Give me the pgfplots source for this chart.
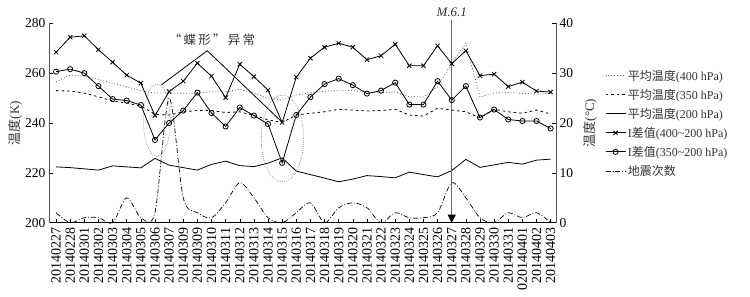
\documentclass[border=0pt]{standalone}
\usepackage{fontspec}
\setmainfont{Liberation Serif}
\newfontfamily\cjk{Noto Sans CJK SC}
\newfontfamily\cjkls{Noto Sans CJK SC}[LetterSpace=18]
\usepackage{pgfplots}
\usepackage{pgfplotstable}
\pgfplotsset{compat=1.18}
\usetikzlibrary{arrows.meta}

\pgfplotstableread{
i t400 t350 t200 d400 d350 eq
0 256.5 253.0 222.4 34.2 30.3 2
1 259.2 252.8 222.1 37.2 30.8 0
2 258.8 252.0 221.6 37.5 30.0 1
3 257.5 250.5 221.1 34.7 27.4 1
4 256.0 248.8 222.8 32.2 24.8 0
5 254.5 248.0 222.4 29.6 24.5 5
6 253.0 246.8 222.0 28.0 23.6 1
7 252.0 243.5 225.8 21.5 16.6 2
8 252.0 243.2 223.1 26.3 20.0 25
9 251.9 244.5 222.1 28.4 22.5 5
10 252.0 245.0 221.1 32.0 26.1 2
11 252.5 245.0 223.4 29.4 22.0 1
12 252.5 244.2 224.7 25.1 19.3 4
13 253.5 244.5 222.9 31.8 23.1 8
14 252.0 243.0 222.5 29.3 21.5 5
15 250.0 241.3 223.9 26.6 19.8 1
16 249.2 240.2 226.0 20.1 12.0 0
17 251.2 243.2 220.7 29.2 21.6 2
18 252.2 243.9 219.3 33.0 25.2 4
19 252.7 244.5 217.9 35.2 27.8 0
20 253.2 245.5 216.4 36.0 28.9 3
21 253.0 245.2 217.5 35.2 27.6 4
22 252.5 244.8 218.9 32.7 25.9 3
23 252.0 245.0 218.5 33.5 26.5 0
24 252.5 245.5 218.0 35.8 28.1 2
25 250.5 243.2 220.3 31.5 23.7 1
26 250.5 242.8 219.3 31.5 23.7 1
27 254.5 245.9 218.4 35.5 28.4 2
28 264.0 245.2 220.9 31.9 24.6 8
29 272.0 244.5 225.4 34.5 27.4 5
30 250.5 242.1 222.2 29.5 21.1 1
31 252.0 245.5 223.2 29.8 22.7 0
32 252.2 244.5 224.2 27.3 20.7 2
33 251.9 243.9 223.5 28.2 20.4 1
34 251.6 245.2 225.1 26.4 20.4 2
35 251.9 243.6 225.5 26.2 18.9 0
}\datatable

\definecolor{axgray}{HTML}{555555}
\definecolor{txtgray}{HTML}{333333}

\pgfplotsset{
  base/.style={
    scale only axis, width=507pt, height=199.4pt,
    at={(0pt,0pt)}, anchor=south west,
    xmin=-0.5, xmax=35.38, clip=false,
    major tick length=4pt,
    tick style={black, line width=0.5pt},
    tick label style={font=\fontsize{13.5}{13.5}\selectfont},
    /pgf/number format/assume math mode=true,
  },
  s400/.style={line width=0.8pt, black!60, dash pattern=on 0.9pt off 2pt},
  s350/.style={line width=0.8pt, black, dash pattern=on 2.5pt off 3pt},
  s200/.style={line width=0.8pt, black},
  sd400/.style={line width=0.8pt, black, mark=x, mark size=3pt, mark options={solid}},
  sd350/.style={line width=0.8pt, black, mark=o, mark size=2.6pt, mark options={solid}},
  seq/.style={line width=0.7pt, black, dash pattern=on 5pt off 2pt on 0.8pt off 2pt, smooth, tension=0.5},
}

\begin{document}
\begin{tikzpicture}
\begin{axis}[base,
  ymin=200, ymax=280, ytick={200,220,...,280},
  axis x line*=bottom, axis y line*=left,
  x axis line style={black, line width=0.7pt},
  y axis line style={axgray, line width=0.7pt},
  xtick={0,...,35},
  xticklabels={20140227,20140228,20140301,20140302,20140303,20140304,20140305,20140306,20140307,20140309,20140309,20140310,20140311,20140312,20140313,20140314,20140315,20140316,20140317,20140318,20140319,20140320,20140321,20140322,20140323,20140324,20140325,20140326,20140327,20140328,20140329,20140330,20140331,020140401,20140402,20140403},
  x tick label style={rotate=90, anchor=east, inner xsep=5pt, font=\fontsize{14}{14}\selectfont},
  ylabel={{\cjk 温度}(K)},
  every axis y label/.style={at={(axis description cs:-0.067,0.5)}, rotate=90, anchor=center, font=\fontsize{13}{13}\selectfont, text=txtgray},
]
\addplot[s400] table[x=i, y=t400] {\datatable};
\addplot[s350] table[x=i, y=t350] {\datatable};
\addplot[s200] table[x=i, y=t200] {\datatable};
% butterfly outline
\addplot[line width=0.8pt, black] coordinates {(7.45,255.3) (10.7,269.0) (15.97,240.5)};
\draw[gray, dash pattern=on 0.8pt off 1.2pt, line width=0.6pt] (axis cs:7.13,241.1) ellipse [x radius=13.5pt, y radius=36pt];
\draw[gray, dash pattern=on 0.8pt off 1.2pt, line width=0.6pt] (axis cs:16.02,233.8) ellipse [x radius=21.2pt, y radius=43.3pt];
\node[font=\fontsize{12.5}{12.5}\selectfont\cjkls, text=txtgray] at (axis cs:11.03,273.3) {“蝶形”异常};
\draw[gray!80!black, line width=1pt, -{Triangle[black, length=8pt, width=8pt]}] (axis cs:28,281.5) -- (axis cs:28,200);
\node[anchor=south, font=\fontsize{13}{13}\selectfont\itshape, text=txtgray, inner sep=1pt] at (axis cs:28,282) {M.6.1};
\end{axis}

\begin{axis}[base,
  ymin=0, ymax=40, ytick={0,10,...,40},
  axis y line*=right, axis x line=none,
  y axis line style={axgray, line width=0.7pt},
  ylabel={{\cjk 温度}(°C)},
  every axis y label/.style={at={(axis description cs:1.067,0.5)}, rotate=90, anchor=center, font=\fontsize{13}{13}\selectfont, text=txtgray},
  legend style={draw=none, fill=none, at={(axis description cs:1.097,0.776)}, anchor=north west,
    font=\fontsize{12}{12}\selectfont, text=txtgray, row sep=3.4pt, inner sep=0pt, outer sep=0pt},
  legend cell align=left,
  legend image code/.code={\draw[mark repeat=2, mark phase=2, #1] plot coordinates {(0pt,0pt) (10pt,0pt) (20pt,0pt)};},
]
\addlegendimage{s400}
\addlegendentry{{\cjk 平均温度}(400 hPa)}
\addlegendimage{s350}
\addlegendentry{{\cjk 平均温度}(350 hPa)}
\addlegendimage{s200}
\addlegendentry{{\cjk 平均温度}(200 hPa)}
\addplot[sd400] table[x=i, y=d400] {\datatable};
\addlegendentry{I{\cjk 差值}(400\textasciitilde200 hPa)}
\addplot[sd350] table[x=i, y=d350] {\datatable};
\addlegendentry{I{\cjk 差值}(350\textasciitilde200 hPa)}
\addplot[seq] table[x=i, y=eq] {\datatable};
\addlegendentry{{\cjk 地震次数}}
\end{axis}
\pgfresetboundingbox
\path (-49pt,-74.3pt) rectangle (701pt,222.7pt);
\end{tikzpicture}
\end{document}
